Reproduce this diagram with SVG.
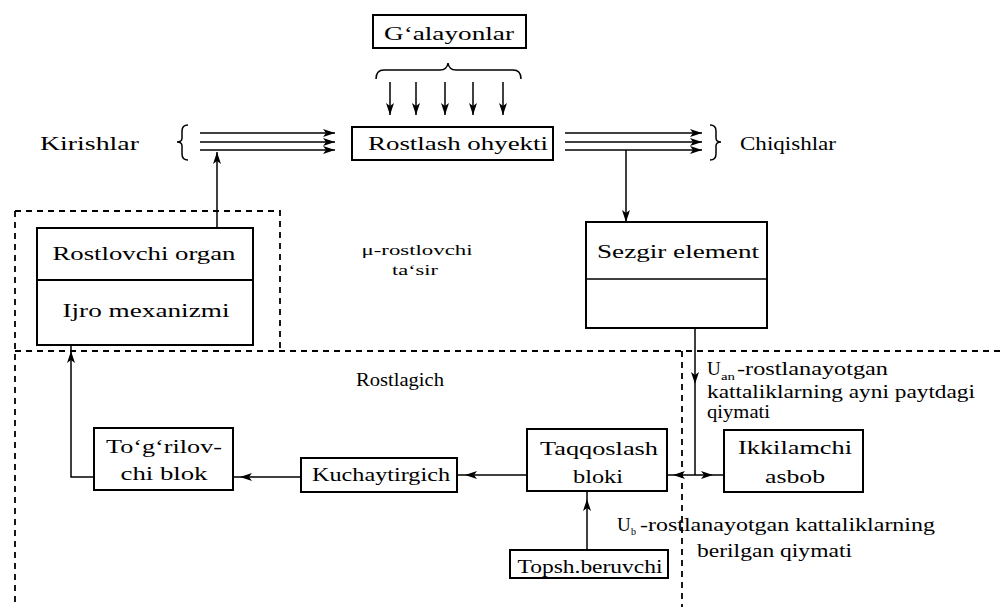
<svg xmlns="http://www.w3.org/2000/svg" width="1001" height="607" viewBox="0 0 1001 607">
<style>
.bg{fill:#fff}
.box{fill:#fff;stroke:#000;stroke-width:2}
.ln{fill:none;stroke:#000;stroke-width:1.5}
.dash{fill:none;stroke:#000;stroke-width:1.8;stroke-dasharray:6 5}
.t{font-family:"Liberation Serif","Times New Roman",serif;font-size:19px;fill:#000}
.s{font-family:"Liberation Serif","Times New Roman",serif;font-size:15px;fill:#000}
.sub{font-family:"Liberation Serif","Times New Roman",serif;font-size:10px;fill:#000}
.m{text-anchor:middle}
</style>
<defs>
<marker id="ah" viewBox="0 0 12 8" refX="12" refY="4" markerWidth="12" markerHeight="8" markerUnits="userSpaceOnUse" orient="auto">
<path d="M0,0 L12,4 L0,8 L3,4 Z" fill="#000"/>
</marker>
<path id="tri" d="M0,0 L-12,-4 L-9,0 L-12,4 Z" fill="#000"/>
</defs>
<rect class="bg" x="0" y="0" width="1001" height="607"/>

<g id="regions">
<path class="dash" d="M15,211 L280,211 L280,351"/>
<path class="dash" d="M15,211 L15,607"/>
<path class="dash" d="M15,351 L1001,351"/>
<path class="dash" d="M682,351 L682,607"/>
</g>

<g id="galayonlar">
<rect class="box" x="373" y="15" width="153" height="33"/>
<text class="t m" x="449" y="40" textLength="130" lengthAdjust="spacingAndGlyphs">G‘alayonlar</text>
</g>

<g id="brace-top">
<path class="ln" d="M376,79 Q376,70 384,70 L440,70 Q447,70 448,63 Q449,70 456,70 L513,70 Q521,70 521,79"/>
</g>

<g id="obyekt">
<rect class="box" x="352" y="127" width="201" height="33"/>
<text class="t m" x="458" y="150" textLength="180" lengthAdjust="spacingAndGlyphs">Rostlash ohyekti</text>
</g>

<g id="kirishlar">
<text class="t" x="40" y="150" textLength="99" lengthAdjust="spacingAndGlyphs">Kirishlar</text>
<path class="ln" d="M188,125 Q182,125 182,131 L182,138 Q182,142 177,142 Q182,142 182,146 L182,154 Q182,160 188,160"/>
</g>

<g id="chiqishlar">
<text class="t" x="740" y="150" textLength="96" lengthAdjust="spacingAndGlyphs">Chiqishlar</text>
<path class="ln" d="M710,125 Q716,125 716,131 L716,138 Q716,142 721,142 Q716,142 716,146 L716,154 Q716,160 710,160"/>
</g>

<g id="ijro">
<rect class="box" x="37" y="228" width="216" height="117"/>
<line class="ln" x1="37" y1="280" x2="253" y2="280" style="stroke-width:2"/>
<text class="t m" x="144" y="260" textLength="183" lengthAdjust="spacingAndGlyphs">Rostlovchi organ</text>
<text class="t m" x="146" y="317" textLength="167" lengthAdjust="spacingAndGlyphs">Ijro mexanizmi</text>
</g>

<g id="mu-label">
<text class="s m" x="417" y="255" textLength="111" lengthAdjust="spacingAndGlyphs">μ-rostlovchi</text>
<text class="s m" x="415" y="275" textLength="46" lengthAdjust="spacingAndGlyphs">ta‘sir</text>
</g>

<g id="sezgir">
<rect class="box" x="586" y="222" width="181" height="106"/>
<line class="ln" x1="586" y1="279" x2="767" y2="279"/>
<text class="t m" x="678" y="258" textLength="162" lengthAdjust="spacingAndGlyphs">Sezgir element</text>
</g>

<g id="rostlagich">
<text class="t m" x="400" y="386" textLength="88" lengthAdjust="spacingAndGlyphs">Rostlagich</text>
</g>

<g id="uan-label">
<text class="t" x="707" y="375">U</text>
<text class="sub" x="721" y="380" textLength="14" lengthAdjust="spacingAndGlyphs">an</text>
<text class="t" x="737" y="375" textLength="151" lengthAdjust="spacingAndGlyphs">-rostlanayotgan</text>
<text class="t" x="707" y="398" textLength="268" lengthAdjust="spacingAndGlyphs">kattaliklarning ayni paytdagi</text>
<text class="t" x="707" y="418" textLength="63" lengthAdjust="spacingAndGlyphs">qiymati</text>
</g>

<g id="togrilovchi">
<rect class="box" x="94" y="428" width="139" height="62"/>
<text class="t m" x="164" y="453" textLength="116" lengthAdjust="spacingAndGlyphs">To‘g‘rilov-</text>
<text class="t m" x="164" y="480" textLength="87" lengthAdjust="spacingAndGlyphs">chi blok</text>
</g>

<g id="kuchaytirgich">
<rect class="box" x="301" y="458" width="156" height="34"/>
<text class="t m" x="381" y="481" textLength="138" lengthAdjust="spacingAndGlyphs">Kuchaytirgich</text>
</g>

<g id="taqqoslash">
<rect class="box" x="527" y="429" width="140" height="62"/>
<text class="t m" x="599" y="455" textLength="118" lengthAdjust="spacingAndGlyphs">Taqqoslash</text>
<text class="t m" x="598" y="483" textLength="50" lengthAdjust="spacingAndGlyphs">bloki</text>
</g>

<g id="topshiruvchi">
<rect class="box" x="510" y="550" width="158" height="28"/>
<text class="t m" x="590" y="573" textLength="145" lengthAdjust="spacingAndGlyphs">Topsh.beruvchi</text>
</g>

<g id="ikkilamchi">
<rect class="box" x="724" y="430" width="139" height="62"/>
<text class="t m" x="795" y="454" textLength="114" lengthAdjust="spacingAndGlyphs">Ikkilamchi</text>
<text class="t m" x="795" y="483" textLength="60" lengthAdjust="spacingAndGlyphs">asbob</text>
</g>

<g id="ub-label">
<text class="t" x="617" y="531">U</text>
<text class="sub" x="631" y="535">b</text>
<text class="t" x="640" y="531" textLength="295" lengthAdjust="spacingAndGlyphs">-rostlanayotgan kattaliklarning</text>
<text class="t" x="697" y="557" textLength="155" lengthAdjust="spacingAndGlyphs">berilgan qiymati</text>
</g>

<g id="connectors">
<line class="ln" x1="390" y1="82" x2="390" y2="115" marker-end="url(#ah)"/>
<line class="ln" x1="416" y1="82" x2="416" y2="115" marker-end="url(#ah)"/>
<line class="ln" x1="445" y1="82" x2="445" y2="115" marker-end="url(#ah)"/>
<line class="ln" x1="473" y1="82" x2="473" y2="115" marker-end="url(#ah)"/>
<line class="ln" x1="503" y1="82" x2="503" y2="115" marker-end="url(#ah)"/>

<line class="ln" x1="200" y1="133" x2="335" y2="133" marker-end="url(#ah)"/>
<line class="ln" x1="200" y1="142" x2="335" y2="142" marker-end="url(#ah)"/>
<line class="ln" x1="200" y1="150" x2="335" y2="150" marker-end="url(#ah)"/>

<line class="ln" x1="565" y1="133" x2="702" y2="133" marker-end="url(#ah)"/>
<line class="ln" x1="565" y1="142" x2="702" y2="142" marker-end="url(#ah)"/>
<line class="ln" x1="565" y1="150" x2="702" y2="150" marker-end="url(#ah)"/>

<line class="ln" x1="217" y1="228" x2="217" y2="152" marker-end="url(#ah)"/>
<line class="ln" x1="626" y1="150" x2="626" y2="222" marker-end="url(#ah)"/>

<line class="ln" x1="695" y1="328" x2="695" y2="475"/>
<use href="#tri" transform="translate(695,384) rotate(90)"/>
<line class="ln" x1="667" y1="475" x2="724" y2="475"/>
<use href="#tri" transform="translate(673,475) rotate(180)"/>
<use href="#tri" transform="translate(713,475)"/>

<line class="ln" x1="527" y1="475" x2="457" y2="475"/>
<use href="#tri" transform="translate(465,475) rotate(180)"/>
<line class="ln" x1="301" y1="477" x2="233" y2="477"/>
<use href="#tri" transform="translate(240,477) rotate(180)"/>
<line class="ln" x1="587" y1="550" x2="587" y2="491"/>
<use href="#tri" transform="translate(587,499) rotate(-90)"/>
<polyline class="ln" points="94,477 71,477 71,345"/>
<use href="#tri" transform="translate(71,351) rotate(-90)"/>
</g>
</svg>
